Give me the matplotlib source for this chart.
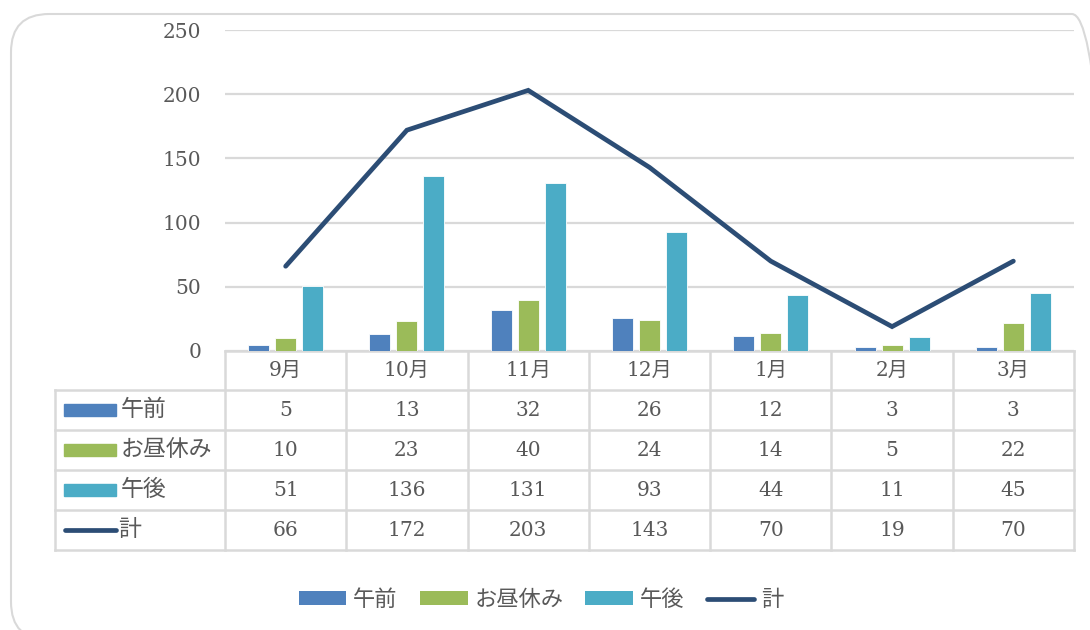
import matplotlib
matplotlib.use("Agg")
import matplotlib.pyplot as plt
import matplotlib.transforms as mtransforms
from matplotlib.patches import Rectangle, FancyBboxPatch, Patch
from matplotlib.lines import Line2D
import numpy as np

plt.rcParams['font.family'] = ['DejaVu Serif', 'Noto Sans CJK JP']

months = ["9月", "10月", "11月", "12月", "1月", "2月", "3月"]
series_names = ["午前", "お昼休み", "午後"]
gozen = [5, 13, 32, 26, 12, 3, 3]
hiru = [10, 23, 40, 24, 14, 5, 22]
gogo = [51, 136, 131, 93, 44, 11, 45]
total = [66, 172, 203, 143, 70, 19, 70]
total_name = "計"
yticks = [0, 50, 100, 150, 200, 250]

colors = ["#4F81BD", "#9BBB59", "#4BACC6"]
line_color = "#2C4D75"
grid_color = "#D9D9D9"
text_color = "#595959"

W, H = 1090, 630
fig = plt.figure(figsize=(W / 100, H / 100), dpi=100)


def fx(px):
    return px / W


def fy(py):
    return 1 - py / H


# outer rounded frame (right and bottom edges run off the picture)
frame = FancyBboxPatch((fx(11), fy(640)), fx(1110) - fx(11), fy(14) - fy(640),
                       boxstyle="round,pad=0,rounding_size=0.035",
                       transform=fig.transFigure, fill=False,
                       edgecolor=grid_color, linewidth=1.5, mutation_aspect=W / H)
fig.patches.append(frame)

ax = fig.add_axes([fx(225), fy(351), fx(1074) - fx(225), fy(30) - fy(351)])
x = np.arange(len(months))
bw = 0.173
off = 0.223
for i, vals in enumerate([gozen, hiru, gogo]):
    ax.bar(x + (i - 1) * off, vals, width=bw, color=colors[i],
           edgecolor="white", linewidth=0.6, zorder=3)
ax.plot(x, total, color=line_color, linewidth=3.4, solid_capstyle="round",
        solid_joinstyle="miter", zorder=4)

ax.set_xlim(-0.5, len(months) - 0.5)
ax.set_ylim(0, 250)
ax.set_yticks(yticks)
ax.yaxis.grid(True, color=grid_color, linewidth=1.6)
ax.set_axisbelow(True)
ax.tick_params(axis='y', length=0, pad=17, labelsize=14.5, labelcolor=text_color)
ax.set_xticks([])
for s in ax.spines.values():
    s.set_visible(False)

# data table under the axis
tr = mtransforms.blended_transform_factory(ax.transData, fig.transFigure)
row_y = [351, 390, 430, 470, 510, 550]
left_x = -0.5 - (225 - 55) / (849 / 7)
right_x = len(months) - 0.5
lw = 1.8

ax.add_line(Line2D([-0.5, right_x], [fy(351), fy(351)], transform=tr,
                   color=grid_color, lw=lw, clip_on=False, zorder=2))
for py in row_y[1:]:
    ax.add_line(Line2D([left_x, right_x], [fy(py), fy(py)], transform=tr,
                       color=grid_color, lw=lw, clip_on=False))
for i in range(len(months) + 1):
    ax.add_line(Line2D([i - 0.5, i - 0.5], [fy(351), fy(550)], transform=tr,
                       color=grid_color, lw=lw, clip_on=False))
ax.add_line(Line2D([left_x, left_x], [fy(390), fy(550)], transform=tr,
                   color=grid_color, lw=lw, clip_on=False))

for i, m in enumerate(months):
    ax.text(i, fy(370.5), m, transform=tr, ha='center', va='center',
            fontsize=14.5, color=text_color)

rows = [gozen, hiru, gogo, total]
names = series_names + [total_name]
for r, vals in enumerate(rows):
    yc = fy((row_y[r + 1] + row_y[r + 2]) / 2)
    for i, v in enumerate(vals):
        ax.text(i, yc, str(v), transform=tr, ha='center', va='center',
                fontsize=14.5, color=text_color)
    # legend key in the row header
    if r < 3:
        fig.patches.append(Rectangle((fx(64), yc - 6 / H), fx(116) - fx(64), 12 / H,
                                     transform=fig.transFigure, color=colors[r]))
        fig.text(fx(121), yc, names[r], ha='left', va='center', fontsize=16.5,
                 color=text_color)
    else:
        fig.lines.append(Line2D([fx(65), fx(116)], [yc, yc], transform=fig.transFigure,
                                color=line_color, lw=3.4, solid_capstyle='round'))
        fig.text(fx(118), yc, names[r], ha='left', va='center', fontsize=16.5,
                 color=text_color)

handles = [Patch(facecolor=c, edgecolor='none') for c in colors]
handles.append(Line2D([0], [0], color=line_color, lw=3.4, solid_capstyle='round'))
fig.legend(handles, names, loc='center', bbox_to_anchor=(fx(541), fy(600)),
           ncol=4, frameon=False, fontsize=16, labelcolor=text_color,
           handlelength=2.15, handleheight=0.55, handletextpad=0.3,
           columnspacing=1.0)

fig.savefig("out.png", dpi=100)
